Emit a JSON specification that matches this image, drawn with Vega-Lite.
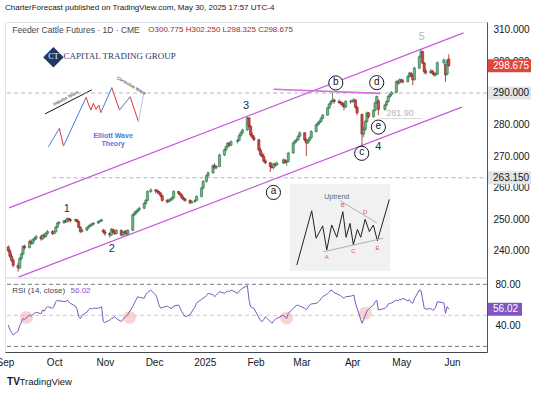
{
  "$schema": "https://vega.github.io/schema/vega-lite/v6.json",
  "width": 482,
  "height": 330,
  "autosize": {"type": "none"},
  "padding": {"left": 5, "top": 22, "right": 53, "bottom": 43},
  "background": "white",
  "title": {"text": "CharterForecast published on TradingView.com, May 30, 2025 17:57 UTC-4", "anchor": "start", "frame": "group", "offset": 10, "fontSize": 8, "font": "Liberation Sans", "fontWeight": "normal", "color": "#131722"},
  "config": {"view": {"stroke": "#e0e3eb"}, "font": "Liberation Sans"},
  "datasets": {
    "candles": [
      {"d":"2024-09-03","o":241.2,"h":241.8,"l":239.6,"c":240.0,"r":40.6},
      {"d":"2024-09-04","o":240.0,"h":240.6,"l":237.8,"c":238.3,"r":36},
      {"d":"2024-09-05","o":238.3,"h":239.2,"l":236.5,"c":237.0,"r":33.5},
      {"d":"2024-09-06","o":237.0,"h":237.6,"l":234.8,"c":235.4,"r":31},
      {"d":"2024-09-09","o":235.4,"h":236.2,"l":233.4,"c":234.6,"r":35},
      {"d":"2024-09-10","o":234.6,"h":238.0,"l":234.2,"c":237.6,"r":40},
      {"d":"2024-09-11","o":237.6,"h":239.5,"l":237.0,"c":239.0,"r":43.5},
      {"d":"2024-09-12","o":239.0,"h":241.8,"l":238.6,"c":241.4,"r":47},
      {"d":"2024-09-13","o":241.4,"h":242.0,"l":240.4,"c":241.0,"r":46},
      {"d":"2024-09-16","o":241.0,"h":243.5,"l":240.8,"c":243.0,"r":50.5},
      {"d":"2024-09-17","o":243.0,"h":243.6,"l":242.0,"c":242.4,"r":49},
      {"d":"2024-09-18","o":242.4,"h":243.9,"l":242.0,"c":243.5,"r":51},
      {"d":"2024-09-19","o":243.5,"h":244.5,"l":243.0,"c":244.0,"r":52},
      {"d":"2024-09-20","o":244.0,"h":245.0,"l":243.4,"c":244.5,"r":53},
      {"d":"2024-09-23","o":244.5,"h":245.0,"l":243.2,"c":243.8,"r":51.5},
      {"d":"2024-09-24","o":243.8,"h":245.4,"l":243.5,"c":245.0,"r":55.2},
      {"d":"2024-09-25","o":245.0,"h":245.5,"l":244.0,"c":244.6,"r":54},
      {"d":"2024-09-26","o":244.6,"h":246.0,"l":244.2,"c":245.6,"r":57},
      {"d":"2024-09-27","o":245.6,"h":246.6,"l":245.2,"c":246.1,"r":58.4},
      {"d":"2024-09-30","o":246.1,"h":246.5,"l":245.0,"c":245.5,"r":56.8},
      {"d":"2024-10-01","o":245.5,"h":246.5,"l":245.2,"c":246.0,"r":59},
      {"d":"2024-10-02","o":246.0,"h":247.8,"l":245.8,"c":247.5,"r":63},
      {"d":"2024-10-03","o":247.5,"h":249.2,"l":247.2,"c":248.8,"r":64.8},
      {"d":"2024-10-04","o":248.8,"h":249.5,"l":248.3,"c":249.0,"r":64},
      {"d":"2024-10-07","o":249.0,"h":249.8,"l":248.5,"c":249.5,"r":63.5},
      {"d":"2024-10-08","o":249.5,"h":250.0,"l":248.8,"c":249.2,"r":63.2},
      {"d":"2024-10-09","o":249.2,"h":250.6,"l":249.0,"c":250.2,"r":64.8},
      {"d":"2024-10-10","o":250.2,"h":250.5,"l":249.3,"c":249.8,"r":63},
      {"d":"2024-10-11","o":249.8,"h":250.3,"l":249.0,"c":249.6,"r":61.6},
      {"d":"2024-10-14","o":249.6,"h":250.2,"l":249.2,"c":249.9,"r":59},
      {"d":"2024-10-15","o":249.9,"h":250.0,"l":248.8,"c":249.3,"r":56},
      {"d":"2024-10-16","o":249.3,"h":249.5,"l":247.2,"c":247.5,"r":48.7},
      {"d":"2024-10-17","o":247.5,"h":247.8,"l":245.6,"c":246.1,"r":47},
      {"d":"2024-10-18","o":246.1,"h":247.0,"l":245.8,"c":246.6,"r":50},
      {"d":"2024-10-21","o":246.6,"h":247.6,"l":246.2,"c":247.3,"r":53},
      {"d":"2024-10-22","o":247.3,"h":248.2,"l":247.0,"c":247.8,"r":55.5},
      {"d":"2024-10-23","o":247.8,"h":248.6,"l":247.4,"c":248.2,"r":56.8},
      {"d":"2024-10-24","o":248.2,"h":248.9,"l":247.8,"c":248.5,"r":56},
      {"d":"2024-10-25","o":248.5,"h":249.1,"l":248.0,"c":248.8,"r":57},
      {"d":"2024-10-28","o":248.8,"h":249.6,"l":248.5,"c":249.3,"r":56.8},
      {"d":"2024-10-29","o":249.3,"h":249.9,"l":249.0,"c":249.5,"r":57.5},
      {"d":"2024-10-30","o":249.5,"h":250.2,"l":249.2,"c":249.8,"r":58.4},
      {"d":"2024-10-31","o":246.5,"h":247.0,"l":245.5,"c":246.0,"r":43.9},
      {"d":"2024-11-01","o":246.0,"h":246.8,"l":244.8,"c":245.5,"r":43},
      {"d":"2024-11-04","o":245.5,"h":246.0,"l":244.2,"c":245.0,"r":45.5},
      {"d":"2024-11-05","o":245.0,"h":247.2,"l":244.8,"c":246.8,"r":47},
      {"d":"2024-11-06","o":246.8,"h":247.0,"l":245.4,"c":246.0,"r":47.5},
      {"d":"2024-11-07","o":246.0,"h":246.5,"l":245.0,"c":245.5,"r":48.7},
      {"d":"2024-11-08","o":245.5,"h":246.9,"l":245.2,"c":246.5,"r":47},
      {"d":"2024-11-11","o":246.5,"h":246.8,"l":244.6,"c":245.0,"r":44},
      {"d":"2024-11-12","o":245.0,"h":246.2,"l":244.7,"c":245.8,"r":46},
      {"d":"2024-11-13","o":245.8,"h":246.5,"l":245.0,"c":246.2,"r":48},
      {"d":"2024-11-14","o":246.2,"h":246.6,"l":244.8,"c":245.4,"r":49},
      {"d":"2024-11-15","o":245.4,"h":246.8,"l":245.0,"c":246.5,"r":51},
      {"d":"2024-11-18","o":246.5,"h":251.8,"l":246.3,"c":251.4,"r":58.4},
      {"d":"2024-11-19","o":251.4,"h":252.5,"l":251.0,"c":252.0,"r":62},
      {"d":"2024-11-20","o":252.0,"h":253.0,"l":251.4,"c":252.5,"r":65},
      {"d":"2024-11-21","o":252.5,"h":253.4,"l":252.0,"c":253.0,"r":68},
      {"d":"2024-11-22","o":253.0,"h":254.0,"l":252.6,"c":253.5,"r":67.5},
      {"d":"2024-11-25","o":253.5,"h":255.5,"l":253.2,"c":255.0,"r":66.5},
      {"d":"2024-11-26","o":255.0,"h":256.4,"l":254.6,"c":256.0,"r":70},
      {"d":"2024-11-27","o":256.0,"h":259.2,"l":255.8,"c":258.8,"r":72},
      {"d":"2024-11-29","o":258.8,"h":259.8,"l":258.3,"c":259.3,"r":74.5},
      {"d":"2024-12-02","o":259.3,"h":259.6,"l":258.2,"c":259.0,"r":69.7},
      {"d":"2024-12-03","o":259.0,"h":259.5,"l":258.0,"c":258.8,"r":66},
      {"d":"2024-12-04","o":258.8,"h":259.0,"l":257.8,"c":258.3,"r":60},
      {"d":"2024-12-05","o":258.3,"h":258.6,"l":257.0,"c":257.5,"r":57},
      {"d":"2024-12-06","o":257.5,"h":257.8,"l":255.6,"c":256.0,"r":57.5},
      {"d":"2024-12-09","o":256.0,"h":256.5,"l":255.0,"c":255.6,"r":59},
      {"d":"2024-12-10","o":255.6,"h":256.5,"l":255.2,"c":256.0,"r":58},
      {"d":"2024-12-11","o":256.0,"h":256.8,"l":255.6,"c":256.3,"r":57},
      {"d":"2024-12-12","o":256.3,"h":257.2,"l":255.9,"c":256.8,"r":56.8},
      {"d":"2024-12-13","o":256.8,"h":259.2,"l":256.5,"c":258.8,"r":59},
      {"d":"2024-12-16","o":258.8,"h":259.0,"l":257.8,"c":258.2,"r":60},
      {"d":"2024-12-17","o":258.2,"h":258.6,"l":257.2,"c":257.7,"r":57},
      {"d":"2024-12-18","o":257.7,"h":258.0,"l":256.4,"c":256.8,"r":53.5},
      {"d":"2024-12-19","o":256.8,"h":257.2,"l":255.9,"c":256.3,"r":51},
      {"d":"2024-12-20","o":256.3,"h":256.8,"l":255.5,"c":256.0,"r":48.7},
      {"d":"2024-12-23","o":256.0,"h":256.3,"l":254.8,"c":255.2,"r":50.5},
      {"d":"2024-12-24","o":255.2,"h":256.0,"l":255.0,"c":255.6,"r":53.5},
      {"d":"2024-12-26","o":255.6,"h":256.4,"l":255.2,"c":256.0,"r":58},
      {"d":"2024-12-27","o":256.0,"h":257.6,"l":255.8,"c":257.2,"r":62},
      {"d":"2024-12-30","o":257.2,"h":260.3,"l":257.0,"c":259.9,"r":65.5},
      {"d":"2024-12-31","o":259.9,"h":262.4,"l":259.6,"c":262.0,"r":66.5},
      {"d":"2025-01-02","o":262.0,"h":264.2,"l":261.6,"c":263.8,"r":69},
      {"d":"2025-01-03","o":263.8,"h":265.2,"l":263.3,"c":264.7,"r":71.3},
      {"d":"2025-01-06","o":264.7,"h":267.4,"l":264.5,"c":267.0,"r":70},
      {"d":"2025-01-07","o":267.0,"h":267.8,"l":265.8,"c":266.3,"r":68},
      {"d":"2025-01-08","o":266.3,"h":267.2,"l":265.9,"c":266.7,"r":69.5},
      {"d":"2025-01-10","o":266.7,"h":270.8,"l":266.5,"c":270.4,"r":72.9},
      {"d":"2025-01-13","o":270.4,"h":272.4,"l":270.0,"c":272.0,"r":71.3},
      {"d":"2025-01-14","o":272.0,"h":273.4,"l":271.6,"c":273.0,"r":72.5},
      {"d":"2025-01-15","o":273.0,"h":274.5,"l":272.6,"c":274.1,"r":73.5},
      {"d":"2025-01-16","o":274.1,"h":274.4,"l":273.0,"c":273.5,"r":72.8},
      {"d":"2025-01-17","o":273.5,"h":275.0,"l":273.2,"c":274.6,"r":74.5},
      {"d":"2025-01-21","o":274.6,"h":275.4,"l":274.0,"c":275.0,"r":71.3},
      {"d":"2025-01-22","o":275.0,"h":276.9,"l":274.8,"c":276.5,"r":73.5},
      {"d":"2025-01-23","o":276.5,"h":277.8,"l":276.2,"c":277.4,"r":75},
      {"d":"2025-01-24","o":277.4,"h":278.7,"l":277.0,"c":278.3,"r":76.1},
      {"d":"2025-01-27","o":278.3,"h":282.5,"l":278.0,"c":282.1,"r":78.7},
      {"d":"2025-01-28","o":282.1,"h":282.3,"l":278.9,"c":279.5,"r":65},
      {"d":"2025-01-29","o":279.5,"h":279.8,"l":276.2,"c":276.7,"r":58.4},
      {"d":"2025-01-30","o":276.7,"h":277.5,"l":275.5,"c":276.0,"r":57.5},
      {"d":"2025-01-31","o":276.0,"h":276.6,"l":274.8,"c":275.2,"r":56.8},
      {"d":"2025-02-03","o":275.2,"h":275.5,"l":271.5,"c":272.0,"r":48},
      {"d":"2025-02-04","o":272.0,"h":272.6,"l":270.0,"c":270.5,"r":45},
      {"d":"2025-02-05","o":270.5,"h":271.2,"l":269.5,"c":269.9,"r":43.9},
      {"d":"2025-02-06","o":269.9,"h":270.8,"l":268.0,"c":268.5,"r":46},
      {"d":"2025-02-07","o":268.5,"h":269.0,"l":267.4,"c":267.9,"r":48.7},
      {"d":"2025-02-10","o":267.9,"h":268.2,"l":265.0,"c":266.7,"r":44},
      {"d":"2025-02-11","o":266.7,"h":267.8,"l":266.0,"c":266.4,"r":42.3},
      {"d":"2025-02-12","o":266.4,"h":267.9,"l":265.8,"c":267.5,"r":44.5},
      {"d":"2025-02-13","o":267.5,"h":268.0,"l":266.6,"c":267.2,"r":46},
      {"d":"2025-02-14","o":267.2,"h":268.3,"l":266.9,"c":267.8,"r":47},
      {"d":"2025-02-18","o":267.8,"h":269.3,"l":267.5,"c":268.8,"r":50.3},
      {"d":"2025-02-19","o":268.8,"h":269.0,"l":267.6,"c":268.0,"r":48.5},
      {"d":"2025-02-20","o":268.0,"h":268.7,"l":267.0,"c":268.3,"r":47},
      {"d":"2025-02-21","o":268.3,"h":271.4,"l":268.0,"c":271.0,"r":52},
      {"d":"2025-02-24","o":271.0,"h":274.6,"l":270.8,"c":274.2,"r":56.8},
      {"d":"2025-02-25","o":274.2,"h":275.2,"l":273.8,"c":274.8,"r":58},
      {"d":"2025-02-26","o":274.8,"h":275.6,"l":274.3,"c":275.2,"r":59.5},
      {"d":"2025-02-27","o":275.2,"h":276.7,"l":274.9,"c":276.3,"r":60},
      {"d":"2025-02-28","o":276.3,"h":277.8,"l":276.0,"c":277.4,"r":59},
      {"d":"2025-03-03","o":277.4,"h":277.6,"l":274.7,"c":275.2,"r":56.8},
      {"d":"2025-03-04","o":275.2,"h":275.6,"l":270.0,"c":274.2,"r":55.5},
      {"d":"2025-03-05","o":274.2,"h":275.4,"l":273.8,"c":275.0,"r":57.5},
      {"d":"2025-03-06","o":275.0,"h":276.2,"l":274.6,"c":275.8,"r":60},
      {"d":"2025-03-07","o":275.8,"h":278.2,"l":275.5,"c":277.8,"r":61},
      {"d":"2025-03-10","o":277.8,"h":280.3,"l":277.5,"c":279.9,"r":61.6},
      {"d":"2025-03-11","o":279.9,"h":280.9,"l":279.5,"c":280.5,"r":62.5},
      {"d":"2025-03-12","o":280.5,"h":281.4,"l":280.0,"c":281.0,"r":64},
      {"d":"2025-03-13","o":281.0,"h":282.4,"l":280.6,"c":282.0,"r":66},
      {"d":"2025-03-14","o":282.0,"h":283.4,"l":281.6,"c":283.0,"r":68},
      {"d":"2025-03-17","o":283.0,"h":285.7,"l":282.8,"c":285.3,"r":71},
      {"d":"2025-03-18","o":285.3,"h":286.9,"l":285.0,"c":286.5,"r":72.5},
      {"d":"2025-03-19","o":286.5,"h":287.7,"l":286.0,"c":287.3,"r":74.5},
      {"d":"2025-03-20","o":287.3,"h":290.0,"l":287.0,"c":287.8,"r":73.5},
      {"d":"2025-03-21","o":287.8,"h":288.2,"l":286.6,"c":287.3,"r":72},
      {"d":"2025-03-24","o":287.3,"h":288.0,"l":286.5,"c":287.0,"r":69.7},
      {"d":"2025-03-25","o":287.0,"h":287.6,"l":286.2,"c":286.9,"r":69},
      {"d":"2025-03-26","o":286.9,"h":287.2,"l":285.6,"c":286.2,"r":67.5},
      {"d":"2025-03-27","o":286.2,"h":286.8,"l":284.5,"c":285.6,"r":66.5},
      {"d":"2025-03-28","o":285.6,"h":287.7,"l":285.2,"c":287.3,"r":68},
      {"d":"2025-03-31","o":287.3,"h":287.9,"l":286.6,"c":287.3,"r":68.5},
      {"d":"2025-04-01","o":287.3,"h":288.0,"l":286.9,"c":287.5,"r":69},
      {"d":"2025-04-02","o":287.5,"h":288.4,"l":287.0,"c":287.8,"r":69.7},
      {"d":"2025-04-03","o":287.8,"h":288.0,"l":285.0,"c":285.5,"r":62},
      {"d":"2025-04-04","o":285.5,"h":285.8,"l":283.0,"c":283.7,"r":56.8},
      {"d":"2025-04-07","o":283.2,"h":283.5,"l":272.0,"c":277.0,"r":42.3},
      {"d":"2025-04-08","o":277.0,"h":279.2,"l":276.0,"c":278.5,"r":46},
      {"d":"2025-04-09","o":278.5,"h":281.5,"l":278.0,"c":281.0,"r":50.3},
      {"d":"2025-04-10","o":281.0,"h":284.1,"l":280.6,"c":283.7,"r":54},
      {"d":"2025-04-11","o":283.7,"h":284.0,"l":282.0,"c":282.5,"r":56},
      {"d":"2025-04-14","o":282.5,"h":284.8,"l":282.2,"c":284.5,"r":60},
      {"d":"2025-04-15","o":284.5,"h":287.3,"l":284.2,"c":286.9,"r":63},
      {"d":"2025-04-16","o":286.9,"h":289.2,"l":286.5,"c":288.9,"r":64.8},
      {"d":"2025-04-17","o":287.5,"h":288.0,"l":283.0,"c":284.8,"r":55.2},
      {"d":"2025-04-21","o":284.8,"h":286.6,"l":284.4,"c":286.2,"r":56.8},
      {"d":"2025-04-22","o":286.2,"h":287.7,"l":285.8,"c":287.3,"r":58},
      {"d":"2025-04-23","o":287.3,"h":289.3,"l":287.0,"c":288.9,"r":61},
      {"d":"2025-04-24","o":288.9,"h":289.9,"l":288.3,"c":289.5,"r":61.6},
      {"d":"2025-04-25","o":289.5,"h":290.6,"l":289.0,"c":290.2,"r":62},
      {"d":"2025-04-28","o":290.2,"h":294.0,"l":290.0,"c":293.6,"r":64.8},
      {"d":"2025-04-29","o":293.6,"h":294.2,"l":292.5,"c":293.2,"r":64},
      {"d":"2025-04-30","o":293.2,"h":294.6,"l":292.8,"c":294.2,"r":65.5},
      {"d":"2025-05-01","o":294.2,"h":294.5,"l":293.2,"c":293.8,"r":65},
      {"d":"2025-05-02","o":293.8,"h":294.4,"l":293.0,"c":293.6,"r":66.5},
      {"d":"2025-05-05","o":293.6,"h":295.6,"l":293.3,"c":295.2,"r":64},
      {"d":"2025-05-06","o":295.2,"h":296.7,"l":294.9,"c":296.3,"r":65},
      {"d":"2025-05-07","o":296.3,"h":296.6,"l":295.0,"c":295.5,"r":62.5},
      {"d":"2025-05-08","o":295.5,"h":296.0,"l":292.5,"c":294.2,"r":61.6},
      {"d":"2025-05-09","o":294.2,"h":298.3,"l":294.0,"c":297.9,"r":66},
      {"d":"2025-05-12","o":297.9,"h":301.9,"l":297.6,"c":301.5,"r":74.5},
      {"d":"2025-05-13","o":301.5,"h":303.9,"l":301.2,"c":303.1,"r":74},
      {"d":"2025-05-14","o":303.1,"h":303.4,"l":299.2,"c":299.5,"r":66},
      {"d":"2025-05-15","o":299.5,"h":299.8,"l":296.0,"c":296.8,"r":56.8},
      {"d":"2025-05-16","o":296.8,"h":297.6,"l":295.8,"c":296.5,"r":56},
      {"d":"2025-05-19","o":296.5,"h":297.6,"l":296.0,"c":297.0,"r":56.5},
      {"d":"2025-05-20","o":297.0,"h":297.3,"l":295.8,"c":296.3,"r":55.2},
      {"d":"2025-05-21","o":296.3,"h":296.6,"l":295.2,"c":295.7,"r":55.5},
      {"d":"2025-05-22","o":295.7,"h":296.5,"l":295.3,"c":296.0,"r":58},
      {"d":"2025-05-23","o":296.0,"h":300.0,"l":295.8,"c":299.6,"r":63.2},
      {"d":"2025-05-27","o":299.6,"h":300.9,"l":299.0,"c":300.5,"r":62},
      {"d":"2025-05-28","o":299.0,"h":299.3,"l":293.6,"c":295.7,"r":51.9},
      {"d":"2025-05-29","o":296.0,"h":300.8,"l":295.6,"c":300.2,"r":58.4},
      {"d":"2025-05-30","o":300.775,"h":302.25,"l":298.325,"c":298.675,"r":56.02}
    ],
    "channel": [
      {"g":"upper","d":"2024-09-03T12:00:00Z","p":253.6},
      {"g":"upper","d":"2025-06-08T00:00:00Z","p":309.05},
      {"g":"lower","d":"2024-09-09T05:00:00Z","p":231.7},
      {"g":"lower","d":"2025-06-07T00:00:00Z","p":285.5}
    ],
    "bline": [
      {"d":"2025-02-12T00:00:00Z","p":291.2},
      {"d":"2025-04-18T00:00:00Z","p":289.9}
    ],
    "level": [
      {"d":"2025-04-18T00:00:00Z","p":281.9},
      {"d":"2025-05-13T12:00:00Z","p":281.9}
    ],
    "waves": [
      {"d":"2024-10-08T18:00:00Z","p":253.2,"t":"1"},
      {"d":"2024-11-05T05:00:00Z","p":240.6,"t":"2"},
      {"d":"2025-01-26T05:00:00Z","p":285.9,"t":"3"},
      {"d":"2025-04-17T00:00:00Z","p":272.9,"t":"4"}
    ],
    "circled": [
      {"d":"2025-02-11T22:00:00Z","p":258.5,"t":"a"},
      {"d":"2025-03-22T00:00:00Z","p":293.2,"t":"b"},
      {"d":"2025-04-06T20:00:00Z","p":270.9,"t":"c"},
      {"d":"2025-04-16T00:00:00Z","p":293.3,"t":"d"},
      {"d":"2025-04-17T00:00:00Z","p":279.2,"t":"e"}
    ],
    "elliott": [
      {"g":"e1","k":"up","d":"2024-09-27T12:00:00Z","p":273.0},
      {"g":"e1","k":"up","d":"2024-10-04T05:00:00Z","p":278.8},
      {"g":"e2","k":"dn","d":"2024-10-04T05:00:00Z","p":278.8},
      {"g":"e2","k":"dn","d":"2024-10-06T17:00:00Z","p":273.2},
      {"g":"e3","k":"up","d":"2024-10-06T17:00:00Z","p":273.2},
      {"g":"e3","k":"up","d":"2024-10-20T13:00:00Z","p":288.65},
      {"g":"e4","k":"dn","d":"2024-10-20T13:00:00Z","p":288.65},
      {"g":"e4","k":"dn","d":"2024-10-21T23:00:00Z","p":286.5},
      {"g":"e4","k":"dn","d":"2024-10-23T10:00:00Z","p":284.6},
      {"g":"e4","k":"dn","d":"2024-10-25T00:00:00Z","p":286.75},
      {"g":"e4","k":"dn","d":"2024-10-26T14:00:00Z","p":284.85},
      {"g":"e4","k":"dn","d":"2024-10-28T07:00:00Z","p":286.2},
      {"g":"e4","k":"dn","d":"2024-10-29T12:00:00Z","p":283.8},
      {"g":"e5","k":"up","d":"2024-10-29T12:00:00Z","p":283.8},
      {"g":"e5","k":"up","d":"2024-11-05T05:00:00Z","p":291.7},
      {"g":"e6","k":"dn","d":"2024-11-05T05:00:00Z","p":291.7},
      {"g":"e6","k":"dn","d":"2024-11-09T22:00:00Z","p":284.6},
      {"g":"e7","k":"up","d":"2024-11-09T22:00:00Z","p":284.6},
      {"g":"e7","k":"up","d":"2024-11-16T10:00:00Z","p":288.8},
      {"g":"e8","k":"dn","d":"2024-11-16T10:00:00Z","p":288.8},
      {"g":"e8","k":"dn","d":"2024-11-21T12:00:00Z","p":280.9},
      {"g":"e9","k":"fut","d":"2024-11-21T12:00:00Z","p":280.9},
      {"g":"e9","k":"fut","d":"2024-11-24T22:00:00Z","p":290.4},
      {"g":"ar","k":"arrow","d":"2024-09-25T12:00:00Z","p":283.4},
      {"g":"ar","k":"arrow","d":"2024-10-24T00:00:00Z","p":291.0}
    ],
    "uptrend": [
      {"g":"zig","k":"zig","d":"2025-02-26T05:00:00Z","p":235.5},
      {"g":"zig","k":"zig","d":"2025-03-07T07:00:00Z","p":252.7},
      {"g":"zig","k":"zig","d":"2025-03-10T00:00:00Z","p":244.0},
      {"g":"zig","k":"zig","d":"2025-03-14T00:00:00Z","p":247.9},
      {"g":"zig","k":"zig","d":"2025-03-16T12:00:00Z","p":240.3},
      {"g":"zig","k":"zig","d":"2025-03-19T12:00:00Z","p":248.2},
      {"g":"zig","k":"zig","d":"2025-03-22T14:00:00Z","p":244.3},
      {"g":"zig","k":"zig","d":"2025-03-26T07:00:00Z","p":252.4},
      {"g":"zig","k":"zig","d":"2025-03-28T07:00:00Z","p":244.3},
      {"g":"zig","k":"zig","d":"2025-03-30T17:00:00Z","p":248.7},
      {"g":"zig","k":"zig","d":"2025-04-01T17:00:00Z","p":241.9},
      {"g":"zig","k":"zig","d":"2025-04-04T05:00:00Z","p":246.8},
      {"g":"zig","k":"zig","d":"2025-04-06T05:00:00Z","p":244.3},
      {"g":"zig","k":"zig","d":"2025-04-08T22:00:00Z","p":250.0},
      {"g":"zig","k":"zig","d":"2025-04-11T12:00:00Z","p":246.1},
      {"g":"zig","k":"zig","d":"2025-04-13T22:00:00Z","p":248.2},
      {"g":"zig","k":"zig","d":"2025-04-16T10:00:00Z","p":243.2},
      {"g":"zig","k":"zig","d":"2025-04-23T17:00:00Z","p":256.3},
      {"g":"t1","k":"tri","d":"2025-03-24T14:00:00Z","p":255.9},
      {"g":"t1","k":"tri","d":"2025-04-16T00:00:00Z","p":248.9},
      {"g":"t2","k":"tri","d":"2025-03-14T10:00:00Z","p":239.7},
      {"g":"t2","k":"tri","d":"2025-04-20T02:00:00Z","p":244.0}
    ],
    "uplabels": [
      {"d":"2025-03-16T12:00:00Z","p":238.2,"t":"A"},
      {"d":"2025-03-26T07:00:00Z","p":254.4,"t":"B"},
      {"d":"2025-04-01T17:00:00Z","p":239.8,"t":"C"},
      {"d":"2025-04-08T22:00:00Z","p":252.2,"t":"D"},
      {"d":"2025-04-16T10:00:00Z","p":241.0,"t":"E"}
    ],
    "rsicircles": [
      {"d":"2024-09-14","r":48},
      {"d":"2024-11-16","r":48},
      {"d":"2025-02-20","r":47.5},
      {"d":"2025-04-09","r":52}
    ]
  },
  "layer": [
    {
      "layer": [
        {
          "data": {"name": "uptrend"},
          "mark": {"type": "rect", "color": "#f1f1f1"},
          "encoding": {
            "x": {"datum": {"year": 2025, "month": 2, "date": 22, "hours": 12, "utc": true}, "title": null,
              "scale": {"type": "utc", "padding": 0, "domain": [{"year": 2024, "month": 9, "date": 1, "utc": true}, {"year": 2025, "month": 6, "date": 22, "hours": 8, "utc": true}]},
              "axis": {"values": [
                {"year": 2024, "month": 9, "date": 1, "utc": true}, {"year": 2024, "month": 10, "date": 1, "utc": true},
                {"year": 2024, "month": 11, "date": 1, "utc": true}, {"year": 2024, "month": 12, "date": 1, "utc": true},
                {"year": 2025, "month": 1, "date": 1, "utc": true}, {"year": 2025, "month": 2, "date": 1, "utc": true},
                {"year": 2025, "month": 3, "date": 1, "utc": true}, {"year": 2025, "month": 4, "date": 1, "utc": true},
                {"year": 2025, "month": 5, "date": 1, "utc": true}, {"year": 2025, "month": 6, "date": 1, "utc": true}],
                "labelExpr": "utcFormat(datum.value, '%m') == '01' ? utcFormat(datum.value, '%Y') : utcFormat(datum.value, '%b')",
                "grid": false, "ticks": false, "labelFlush": false, "labelAlign": "center", "labelBound": false, "labelOverlap": false, "labelPadding": 5,
                "labelFontSize": 10, "labelColor": "#131722", "labelFont": "Liberation Sans", "domainColor": "#434651", "title": null}},
            "x2": {"datum": {"year": 2025, "month": 4, "date": 23, "hours": 17, "utc": true}},
            "y": {"datum": 261.2, "title": null,
              "scale": {"domain": [231.4, 312.5], "range": [256, 0], "nice": false, "zero": false},
              "axis": {"orient": "right", "values": [240, 250, 260, 270, 280, 300, 310], "format": ".3f", "grid": false, "ticks": false,
                "labelPadding": 6, "labelFontSize": 10, "labelColor": "#131722", "labelFont": "Liberation Sans", "domainColor": "#50535e", "title": null}},
            "y2": {"datum": 233.7}
          }
        },
        {
          "data": {"name": "uptrend"},
          "mark": {"type": "line", "strokeWidth": 1},
          "encoding": {
            "x": {"field": "d", "type": "temporal", "title": null},
            "y": {"field": "p", "type": "quantitative", "title": null},
            "detail": {"field": "g"},
            "color": {"field": "k", "type": "nominal", "scale": {"domain": ["zig", "tri"], "range": ["#222222", "#b0b0b0"]}, "legend": null}
          }
        },
        {
          "data": {"name": "uplabels"},
          "mark": {"type": "text", "fontSize": 6, "color": "#e05555"},
          "encoding": {
            "x": {"field": "d", "type": "temporal", "title": null},
            "y": {"field": "p", "type": "quantitative", "title": null},
            "text": {"field": "t"}
          }
        },
        {
          "data": {"values": [{"t": "Uptrend"}]},
          "mark": {"type": "text", "fontSize": 7, "color": "#666666"},
          "encoding": {
            "x": {"datum": {"year": 2025, "month": 3, "date": 22, "hours": 14, "utc": true}},
            "y": {"datum": 257.2},
            "text": {"field": "t"}
          }
        },
        {
          "data": {"name": "elliott"},
          "mark": {"type": "line", "strokeWidth": 1},
          "encoding": {
            "x": {"field": "d", "type": "temporal", "title": null},
            "y": {"field": "p", "type": "quantitative", "title": null},
            "detail": {"field": "g"},
            "color": {"field": "k", "type": "nominal", "scale": {"domain": ["up", "dn", "fut", "arrow"], "range": ["#4a7be0", "#e0342f", "#a9c6f2", "#111111"]}, "legend": null}
          }
        },
        {
          "data": {"values": [{"t": "Impulse Wave"}]},
          "mark": {"type": "text", "fontSize": 4.5, "angle": 333, "color": "#111111"},
          "encoding": {
            "x": {"datum": {"year": 2024, "month": 10, "date": 8, "hours": 7, "utc": true}},
            "y": {"datum": 288.3},
            "text": {"field": "t"}
          }
        },
        {
          "data": {"values": [{"t": "Corrective Wave"}]},
          "mark": {"type": "text", "fontSize": 4.5, "angle": 30, "color": "#111111"},
          "encoding": {
            "x": {"datum": {"year": 2024, "month": 11, "date": 17, "utc": true}},
            "y": {"datum": 292.2},
            "text": {"field": "t"}
          }
        },
        {
          "data": {"values": [{"t": "Elliott Wave", "p": 276.4}, {"t": "Theory", "p": 273.8}]},
          "mark": {"type": "text", "fontSize": 7, "fontWeight": "bold", "color": "#4a7be0"},
          "encoding": {
            "x": {"datum": {"year": 2024, "month": 11, "date": 6, "utc": true}},
            "y": {"field": "p", "type": "quantitative", "title": null},
            "text": {"field": "t"}
          }
        },
        {
          "data": {"values": [{"t": "CT"}]},
          "mark": {"type": "point", "shape": "diamond", "size": 420, "filled": true, "color": "#1f3864", "opacity": 1},
          "encoding": {
            "x": {"datum": {"year": 2024, "month": 9, "date": 30, "hours": 14, "utc": true}},
            "y": {"datum": 301.3}
          }
        },
        {
          "data": {"values": [{"t": "CT"}]},
          "mark": {"type": "text", "fontSize": 8, "font": "Liberation Serif", "color": "#ffffff"},
          "encoding": {
            "x": {"datum": {"year": 2024, "month": 9, "date": 30, "hours": 14, "utc": true}},
            "y": {"datum": 301.3},
            "text": {"field": "t"}
          }
        },
        {
          "data": {"values": [{"t": "CAPITAL TRADING GROUP"}]},
          "mark": {"type": "text", "fontSize": 9, "font": "Liberation Serif", "align": "left", "color": "#2b3a67"},
          "encoding": {
            "x": {"datum": {"year": 2024, "month": 10, "date": 6, "hours": 17, "utc": true}},
            "y": {"datum": 301.6},
            "text": {"field": "t"}
          }
        },
        {
          "data": {"values": [{"p": 290}]},
          "mark": {"type": "rule", "color": "#b2b5be", "strokeDash": [4, 3], "strokeWidth": 1},
          "encoding": {"y": {"field": "p", "type": "quantitative", "title": null}}
        },
        {
          "data": {"values": [{"p": 263.15}]},
          "mark": {"type": "rule", "color": "#b2b5be", "strokeDash": [4, 3], "strokeWidth": 1},
          "encoding": {
            "x": {"datum": {"year": 2024, "month": 9, "date": 30, "utc": true}},
            "x2": {"datum": {"year": 2025, "month": 6, "date": 22, "hours": 8, "utc": true}},
            "y": {"field": "p", "type": "quantitative", "title": null}
          }
        },
        {
          "data": {"name": "level"},
          "mark": {"type": "line", "color": "#d6d6d6", "strokeWidth": 1},
          "encoding": {
            "x": {"field": "d", "type": "temporal", "title": null},
            "y": {"field": "p", "type": "quantitative", "title": null}
          }
        },
        {
          "data": {"values": [{"t": "281.90"}]},
          "mark": {"type": "text", "fontSize": 9, "color": "#b2b5be"},
          "encoding": {
            "x": {"datum": {"year": 2025, "month": 4, "date": 30, "hours": 5, "utc": true}},
            "y": {"datum": 283.8},
            "text": {"field": "t"}
          }
        },
        {
          "data": {"name": "channel"},
          "mark": {"type": "line", "color": "#c45ed8", "strokeWidth": 1.3},
          "encoding": {
            "x": {"field": "d", "type": "temporal", "title": null},
            "y": {"field": "p", "type": "quantitative", "title": null},
            "detail": {"field": "g"}
          }
        },
        {
          "data": {"name": "bline"},
          "mark": {"type": "line", "color": "#d070dc", "strokeWidth": 1.6},
          "encoding": {
            "x": {"field": "d", "type": "temporal", "title": null},
            "y": {"field": "p", "type": "quantitative", "title": null}
          }
        },
        {
          "data": {"name": "candles"},
          "mark": {"type": "rule", "strokeWidth": 0.8},
          "encoding": {
            "x": {"field": "d", "type": "temporal", "title": null},
            "y": {"field": "l", "type": "quantitative", "title": null},
            "y2": {"field": "h"},
            "color": {"condition": {"test": "datum.c >= datum.o", "value": "#2d6f48"}, "value": "#8e1f1c"}
          }
        },
        {
          "data": {"name": "candles"},
          "mark": {"type": "bar", "width": 2.2, "strokeWidth": 0.6},
          "encoding": {
            "x": {"field": "d", "type": "temporal", "title": null},
            "y": {"field": "o", "type": "quantitative", "title": null},
            "y2": {"field": "c"},
            "fill": {"condition": {"test": "datum.c >= datum.o", "value": "#6fb48a"}, "value": "#c94a44"},
            "stroke": {"condition": {"test": "datum.c >= datum.o", "value": "#2d6f48"}, "value": "#8e1f1c"}
          }
        },
        {
          "data": {"name": "waves"},
          "mark": {"type": "text", "fontSize": 11, "color": "#2a2e39"},
          "encoding": {
            "x": {"field": "d", "type": "temporal", "title": null},
            "y": {"field": "p", "type": "quantitative", "title": null},
            "text": {"field": "t"}
          }
        },
        {
          "data": {"values": [{"t": "5"}]},
          "mark": {"type": "text", "fontSize": 11, "color": "#b8bbc2"},
          "encoding": {
            "x": {"datum": {"year": 2025, "month": 5, "date": 13, "hours": 12, "utc": true}},
            "y": {"datum": 307.8},
            "text": {"field": "t"}
          }
        },
        {
          "data": {"name": "circled"},
          "mark": {"type": "point", "shape": "circle", "size": 200, "filled": true, "fill": "#ffffff", "stroke": "#131722", "strokeWidth": 1, "opacity": 1},
          "encoding": {
            "x": {"field": "d", "type": "temporal", "title": null},
            "y": {"field": "p", "type": "quantitative", "title": null}
          }
        },
        {
          "data": {"name": "circled"},
          "mark": {"type": "text", "fontSize": 10, "color": "#131722", "dy": -1},
          "encoding": {
            "x": {"field": "d", "type": "temporal", "title": null},
            "y": {"field": "p", "type": "quantitative", "title": null},
            "text": {"field": "t"}
          }
        },
        {
          "data": {"values": [{"t": "Feeder Cattle Futures · 1D · CME"}]},
          "mark": {"type": "text", "fontSize": 8.5, "align": "left", "color": "#434651"},
          "encoding": {
            "x": {"datum": {"year": 2024, "month": 9, "date": 5, "hours": 10, "utc": true}},
            "y": {"datum": 310.0},
            "text": {"field": "t"}
          }
        },
        {
          "data": {"values": [{"t": "O300.775  H302.250  L298.325  C298.675"}]},
          "mark": {"type": "text", "fontSize": 8, "align": "left", "color": "#9c2a2a"},
          "encoding": {
            "x": {"datum": {"year": 2024, "month": 11, "date": 27, "hours": 12, "utc": true}},
            "y": {"datum": 310.0},
            "text": {"field": "t"}
          }
        },
        {
          "data": {"values": [{"p": 298.675}]},
          "mark": {"type": "rule", "strokeWidth": 13, "color": "#e0473c", "strokeCap": "butt"},
          "encoding": {
            "x": {"datum": {"year": 2025, "month": 6, "date": 22, "hours": 23, "utc": true}},
            "x2": {"datum": {"year": 2025, "month": 7, "date": 19, "hours": 5, "utc": true}},
            "y": {"field": "p", "type": "quantitative", "title": null}
          }
        },
        {
          "data": {"values": [{"p": 290}, {"p": 263.15}]},
          "mark": {"type": "rule", "strokeWidth": 13, "color": "#e3e4e8", "strokeCap": "butt"},
          "encoding": {
            "x": {"datum": {"year": 2025, "month": 6, "date": 22, "hours": 23, "utc": true}},
            "x2": {"datum": {"year": 2025, "month": 7, "date": 19, "hours": 5, "utc": true}},
            "y": {"field": "p", "type": "quantitative", "title": null}
          }
        },
        {
          "data": {"values": [{"p": 298.675, "t": "298.675"}]},
          "mark": {"type": "text", "fontSize": 10, "align": "left", "color": "#ffffff"},
          "encoding": {
            "x": {"datum": {"year": 2025, "month": 6, "date": 26, "utc": true}},
            "y": {"field": "p", "type": "quantitative", "title": null},
            "text": {"field": "t"}
          }
        },
        {
          "data": {"values": [{"p": 290, "t": "290.000"}, {"p": 263.15, "t": "263.150"}]},
          "mark": {"type": "text", "fontSize": 10, "align": "left", "color": "#131722"},
          "encoding": {
            "x": {"datum": {"year": 2025, "month": 6, "date": 26, "utc": true}},
            "y": {"field": "p", "type": "quantitative", "title": null},
            "text": {"field": "t"}
          }
        }
      ],
      "resolve": {"scale": {"color": "independent"}}
    },
    {
      "layer": [
        {
          "data": {"values": [{"r": 86.1}]},
          "mark": {"type": "rule", "color": "#d1d4dc", "strokeWidth": 1},
          "encoding": {
            "y": {"field": "r", "type": "quantitative", "title": null,
              "scale": {"domain": [14.6, 86.1], "range": [330, 256], "nice": false, "zero": false},
              "axis": {"orient": "right", "values": [40, 80], "format": ".2f", "grid": false, "ticks": false,
                "labelPadding": 8, "labelFontSize": 10, "labelColor": "#131722", "labelFont": "Liberation Sans", "domainColor": "#50535e", "title": null}}
          }
        },
        {
          "data": {"values": [{"r": 80}, {"r": 20}]},
          "mark": {"type": "rule", "color": "#787b86", "strokeDash": [4, 3], "strokeWidth": 1},
          "encoding": {"y": {"field": "r", "type": "quantitative", "title": null}}
        },
        {
          "data": {"values": [{"r": 50}]},
          "mark": {"type": "rule", "color": "#c8cad0", "strokeDash": [4, 3], "strokeWidth": 1},
          "encoding": {"y": {"field": "r", "type": "quantitative", "title": null}}
        },
        {
          "data": {"name": "rsicircles"},
          "mark": {"type": "point", "shape": "circle", "size": 170, "filled": true, "color": "#f4b6b6", "opacity": 0.6},
          "encoding": {
            "x": {"field": "d", "type": "temporal", "title": null},
            "y": {"field": "r", "type": "quantitative", "title": null}
          }
        },
        {
          "data": {"name": "candles"},
          "mark": {"type": "line", "color": "#7e57c2", "strokeWidth": 1},
          "encoding": {
            "x": {"field": "d", "type": "temporal", "title": null},
            "y": {"field": "r", "type": "quantitative", "title": null}
          }
        },
        {
          "data": {"values": [{"t": "RSI (14, close)"}]},
          "mark": {"type": "text", "fontSize": 8, "align": "left", "color": "#434651"},
          "encoding": {
            "x": {"datum": {"year": 2024, "month": 9, "date": 5, "hours": 10, "utc": true}},
            "y": {"datum": 73.5},
            "text": {"field": "t"}
          }
        },
        {
          "data": {"values": [{"t": "56.02"}]},
          "mark": {"type": "text", "fontSize": 8, "align": "left", "color": "#7e57c2"},
          "encoding": {
            "x": {"datum": {"year": 2024, "month": 10, "date": 11, "utc": true}},
            "y": {"datum": 73.5},
            "text": {"field": "t"}
          }
        },
        {
          "data": {"values": [{"r": 56.02}]},
          "mark": {"type": "rule", "strokeWidth": 13, "color": "#7e57c2", "strokeCap": "butt"},
          "encoding": {
            "x": {"datum": {"year": 2025, "month": 6, "date": 22, "hours": 23, "utc": true}},
            "x2": {"datum": {"year": 2025, "month": 7, "date": 13, "hours": 17, "utc": true}},
            "y": {"field": "r", "type": "quantitative", "title": null}
          }
        },
        {
          "data": {"values": [{"r": 56.02, "t": "56.02"}]},
          "mark": {"type": "text", "fontSize": 10, "align": "left", "color": "#ffffff"},
          "encoding": {
            "x": {"datum": {"year": 2025, "month": 6, "date": 26, "utc": true}},
            "y": {"field": "r", "type": "quantitative", "title": null},
            "text": {"field": "t"}
          }
        },
        {
          "data": {"values": [{"t": "TV"}]},
          "mark": {"type": "text", "fontSize": 10, "fontWeight": "bold", "align": "left", "color": "#131722"},
          "encoding": {
            "x": {"datum": {"year": 2024, "month": 9, "date": 2, "hours": 7, "utc": true}},
            "y": {"datum": -14.4},
            "text": {"field": "t"}
          }
        },
        {
          "data": {"values": [{"t": "TradingView"}]},
          "mark": {"type": "text", "fontSize": 9.5, "align": "left", "color": "#131722"},
          "encoding": {
            "x": {"datum": {"year": 2024, "month": 9, "date": 9, "hours": 22, "utc": true}},
            "y": {"datum": -14.4},
            "text": {"field": "t"}
          }
        }
      ]
    }
  ],
  "resolve": {"scale": {"y": "independent"}, "axis": {"y": "independent"}}
}
